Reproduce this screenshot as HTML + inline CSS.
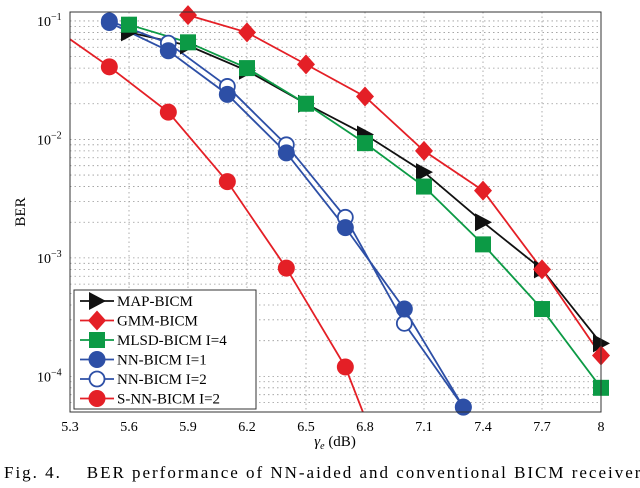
<!DOCTYPE html>
<html><head><meta charset="utf-8"><style>
body{margin:0;background:#fff;width:640px;height:483px;overflow:hidden;font-family:"Liberation Serif",serif}
svg text{font-family:"Liberation Serif",serif}
</style></head><body>
<svg id="chart" width="640" height="483" viewBox="0 0 640 483" xmlns="http://www.w3.org/2000/svg">
<defs><clipPath id="clip"><rect x="70" y="12" width="531" height="400"/></clipPath></defs>
<g id="grid"></g>
<g id="series" clip-path="url(#clip)"></g>
<g id="markers"></g>
<rect x="70" y="12" width="531" height="400" fill="none" stroke="#333" stroke-width="1"/>
<g id="ticks"></g>
<text x="335" y="446" font-size="15" text-anchor="middle"><tspan font-style="italic">γ</tspan><tspan font-style="italic" font-size="10" dy="3">e</tspan><tspan dy="-3"> (dB)</tspan></text>
<text transform="translate(25,212) rotate(-90)" font-size="15" text-anchor="middle">BER</text>
<g id="legend"></g>
<text x="4" y="478" font-size="17" textLength="645" lengthAdjust="spacing" xml:space="preserve">Fig. 4.    BER performance of NN-aided and conventional BICM receivers</text>
</svg>
<script>
const xTicks=[5.3,5.6,5.9,6.2,6.5,6.8,7.1,7.4,7.7,8];
const xTickLabels=["5.3","5.6","5.9","6.2","6.5","6.8","7.1","7.4","7.7","8"];
const yDecades=[-1,-2,-3,-4];
const seriesNames=["MAP-BICM","GMM-BICM","MLSD-BICM I=4","NN-BICM I=1","NN-BICM I=2","S-NN-BICM I=2"];
const mapX=[5.6,5.9,6.2,6.5,6.8,7.1,7.4,7.7,8];
const mapY=[0.08,0.062,0.038,0.02,0.011,0.0053,0.002,0.0008,0.00019];
const gmmX=[5.9,6.2,6.5,6.8,7.1,7.4,7.7,8];
const gmmY=[0.112,0.08,0.043,0.023,0.008,0.0037,0.0008,0.00015];
const mlsdX=[5.6,5.9,6.2,6.5,6.8,7.1,7.4,7.7,8];
const mlsdY=[0.093,0.066,0.04,0.02,0.0093,0.004,0.0013,0.00037,0.00008];
const nn1X=[5.5,5.8,6.1,6.4,6.7,7.0,7.3];
const nn1Y=[0.097,0.056,0.024,0.0077,0.0018,0.00037,0.000055];
const nn2X=[5.5,5.8,6.1,6.4,6.7,7.0,7.3];
const nn2Y=[0.1,0.065,0.028,0.009,0.0022,0.00028,0.000055];
const snnX=[5.3,5.5,5.8,6.1,6.4,6.7,6.8];
const snnY=[0.07,0.041,0.017,0.0044,0.00082,0.00012,0.000045];
const snnMarked=[false,true,true,true,true,true,false];

const X0=70,X1=601,Y0=12,Y1=412,xmin=5.3,xmax=8,ymin=Math.log10(5e-5),ymax=Math.log10(0.119);
function sx(v){return X0+(v-xmin)/(xmax-xmin)*(X1-X0);}
function sy(v){return Y1-(Math.log10(v)-ymin)/(ymax-ymin)*(Y1-Y0);}
const NS="http://www.w3.org/2000/svg";
function mk(tag,attrs,parent){const e=document.createElementNS(NS,tag);for(const k in attrs)e.setAttribute(k,attrs[k]);parent.appendChild(e);return e;}
const grid=document.getElementById('grid'),ticks=document.getElementById('ticks');
xTicks.forEach((t,i)=>{
 const x=sx(t);
 if(i>0&&i<xTicks.length-1){const g=mk('line',{x1:x,x2:x,y1:Y0,y2:Y1,stroke:'#999','stroke-dasharray':'1.5,3','stroke-width':0.8},grid);
 }
 const tl=mk('text',{x:x,y:431,'font-size':14,'text-anchor':'middle'},ticks);tl.textContent=xTickLabels[i];
 
});
for(let d=-5;d<=-1;d++){for(let m=1;m<10;m++){const v=m*Math.pow(10,d);if(v<5e-5||v>0.119)continue;const y=sy(v);
 const g=mk('line',{x1:X0,x2:X1,y1:y,y2:y,stroke:'#999','stroke-dasharray':'1.5,3','stroke-width':0.8},grid);
 }}
yDecades.forEach(d=>{const y=sy(Math.pow(10,d));
 const tl=mk('text',{x:37,y:y+5,'font-size':14},ticks);tl.innerHTML='10<tspan font-size="10" dy="-6">'+d.toString().replace('-','−')+'</tspan>';
 });

const series=document.getElementById('series'),markers=document.getElementById('markers');
function marker(type,x,y,col,parent){let e;
 if(type==='tri')e=mk('polygon',{points:`${x-8},${y-9} ${x+9},${y} ${x-8},${y+9}`,fill:col},parent);
 else if(type==='dia')e=mk('polygon',{points:`${x},${y-10} ${x+9},${y} ${x},${y+10} ${x-9},${y}`,fill:col},parent);
 else if(type==='sq')e=mk('rect',{x:x-8,y:y-8,width:16,height:16,fill:col},parent);
 else if(type==='circ')e=mk('circle',{cx:x,cy:y,r:8.5,fill:col},parent);
 else e=mk('circle',{cx:x,cy:y,r:7.5,fill:'#fff',stroke:col,'stroke-width':1.8},parent);
 return e;}
const defs=[[mapX,mapY,'#111','tri'],[gmmX,gmmY,'#e41f26','dia'],[mlsdX,mlsdY,'#0c9a45','sq'],[nn1X,nn1Y,'#2d4fa6','circ'],[nn2X,nn2Y,'#2d4fa6','ocirc'],[snnX,snnY,'#e41f26','circ']];
defs.forEach((s,si)=>{
 const pts=s[0].map((x,i)=>sx(x)+','+sy(s[1][i])).join(' ');
 const pl=mk('polyline',{points:pts,fill:'none',stroke:s[2],'stroke-width':1.8},series);
 
});
[0,1,2,4,3,5].forEach(si=>{const s=defs[si];
 s[0].forEach((x,i)=>{if(si===5&&!snnMarked[i])return;
 const m=marker(s[3],sx(x),sy(s[1][i]),s[2],markers);
 });
});
const lg=document.getElementById('legend');
const box=mk('rect',{x:74,y:290,width:182,height:119,fill:'#fff',stroke:'#333','stroke-width':1},lg);

seriesNames.forEach((n,i)=>{const y=301+i*19.5;
 const l=mk('line',{x1:80,x2:114,y1:y,y2:y,stroke:defs[i][2],'stroke-width':1.8},lg);
 
 const m=marker(defs[i][3],97,y,defs[i][2],lg);
 
 const t=mk('text',{x:117,y:y+5,'font-size':15},lg);t.textContent=n;
 
});
</script>
</body></html>
